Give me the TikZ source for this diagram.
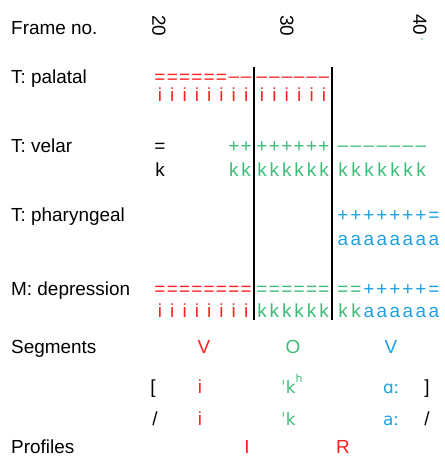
\documentclass[tikz,border=0pt]{standalone}
\usepackage{fontspec}
\setmainfont{Liberation Sans}
\newfontfamily\ipafont{DejaVu Sans}
\usetikzlibrary{positioning}

\definecolor{segred}{HTML}{FF2020}
\definecolor{seggreen}{HTML}{3DBB78}
\definecolor{segblue}{HTML}{1DA1E2}

\tikzset{
    lbl/.style={anchor=base west, inner sep=0pt, font=\fontsize{19}{22}\selectfont},
    sym/.style={anchor=base, inner sep=0pt, font=\fontsize{19}{22}\selectfont},
    ipa/.style={anchor=base west, inner sep=0pt, font=\ipafont\fontsize{17}{20}\selectfont},
    bound/.style={draw=black, line width=1.3pt}
}

% one row of frame symbols: name, first x, pitch, baseline, colour, symbols
\newcommand{\symrow}[6]{%
    \foreach \c [count=\i from 0] in {#6}
        \node[sym, text=#5] (#1-\i) at ({#2+#3*\i},#4) {\c};}
\newcommand{\dsh}{\raisebox{0.09em}{\textendash}}

\begin{document}
\begin{tikzpicture}[x=1bp, y=-1bp]
    \useasboundingbox (0,0) rectangle (445,458);

    % row labels
    \node[lbl] (frame) at (11,35)  {Frame no.};
    \node[lbl] (pal)   at (11,84)  {T: palatal};
    \node[lbl] (vel)   at (11,153) {T: velar};
    \node[lbl] (phar)  at (11,222) {T: pharyngeal};
    \node[lbl] (dep)   at (11,295) {M: depression};
    \node[lbl] (seg)   at (11,353) {Segments};
    \node[lbl] (prof)  at (11,453) {Profiles};

    % frame numbers
    \node[sym, anchor=center, rotate=-90] (f20) at (159,26) {20};
    \node[sym, anchor=center, rotate=-90] (f30) at (287,26) {30};
    \node[sym, anchor=center, rotate=-90] (f40) at (420,25) {40};
    \node[circle, fill=seggreen, inner sep=0pt, minimum size=1.8] (f40dot) at (422,39) {};

    % T: palatal
    \symrow{palA}{160}{12.3}{84}{segred}{=,=,=,=,=,=,\dsh,\dsh}
    \symrow{palB}{262}{12.4}{84}{segred}{\dsh,\dsh,\dsh,\dsh,\dsh,\dsh}
    \symrow{paliA}{160}{12.3}{102}{segred}{i,i,i,i,i,i,i,i}
    \symrow{paliB}{262}{12.4}{102}{segred}{i,i,i,i,i,i}

    % T: velar
    \node[sym] (velq) at (160,153) {=};
    \node[sym] (velk) at (160,177) {k};
    \symrow{velA}{233.8}{12.3}{153}{seggreen}{+,+}
    \symrow{velB}{262}{12.4}{153}{seggreen}{+,+,+,+,+,+}
    \symrow{velC}{343}{13}{153}{seggreen}{\dsh,\dsh,\dsh,\dsh,\dsh,\dsh,\dsh}
    \symrow{velkA}{233.8}{12.3}{177}{seggreen}{k,k}
    \symrow{velkB}{262}{12.4}{177}{seggreen}{k,k,k,k,k,k}
    \symrow{velkC}{343}{13}{177}{seggreen}{k,k,k,k,k,k,k}

    % T: pharyngeal
    \symrow{pharC}{343}{13}{222}{segblue}{+,+,+,+,+,+,+,=}
    \symrow{pharaC}{343}{13}{245}{segblue}{a,a,a,a,a,a,a,a}

    % M: depression
    \symrow{depA}{160}{12.3}{295}{segred}{=,=,=,=,=,=,=,=}
    \symrow{depB}{262}{12.4}{295}{seggreen}{=,=,=,=,=,=}
    \symrow{depC}{343}{13}{295}{seggreen}{=,=}
    \symrow{depD}{369}{13}{295}{segblue}{+,+,+,+,+,=}
    \symrow{depiA}{160}{12.3}{317}{segred}{i,i,i,i,i,i,i,i}
    \symrow{depkB}{262}{12.4}{317}{seggreen}{k,k,k,k,k,k}
    \symrow{depkC}{343}{13}{317}{seggreen}{k,k}
    \symrow{depaD}{369}{13}{317}{segblue}{a,a,a,a,a,a}

    % segment boundaries
    \foreach \bx [count=\j] in {254,332} {
        \coordinate (btop\j) at (\bx,67);
        \coordinate (bbot\j) at (\bx,320);
        \draw[bound] (btop\j) -- (bbot\j);
    }

    % segments
    \node[sym, text=segred]   (segV1) at (204,353) {V};
    \node[sym, text=seggreen] (segO)  at (293,353) {O};
    \node[sym, text=segblue]  (segV2) at (391,353) {V};

    % phonetic and phonemic forms
    \node[sym] (phonL) at (153,393) {[};
    \node[sym, text=segred] (phonI) at (200,393) {i};
    \node[ipa, text=seggreen] (phonK) at (281,393) {ˈk\raisebox{11bp}{\fontsize{11}{11}\selectfont h}};
    \node[ipa, text=segblue] (phonA) at (383,393) {ɑː};
    \node[sym] (phonR) at (427,393) {]};

    \node[sym] (phemL) at (155,425) {/};
    \node[sym, text=segred] (phemI) at (200,425) {i};
    \node[ipa, text=seggreen] (phemK) at (281,425) {ˈk};
    \node[ipa, text=segblue] (phemA) at (383,425) {aː};
    \node[sym] (phemR) at (427,425) {/};

    % profiles
    \node[sym, text=segred] (profI) at (247,453) {I};
    \node[sym, text=segred] (profR) at (343,453) {R};
\end{tikzpicture}
\end{document}
